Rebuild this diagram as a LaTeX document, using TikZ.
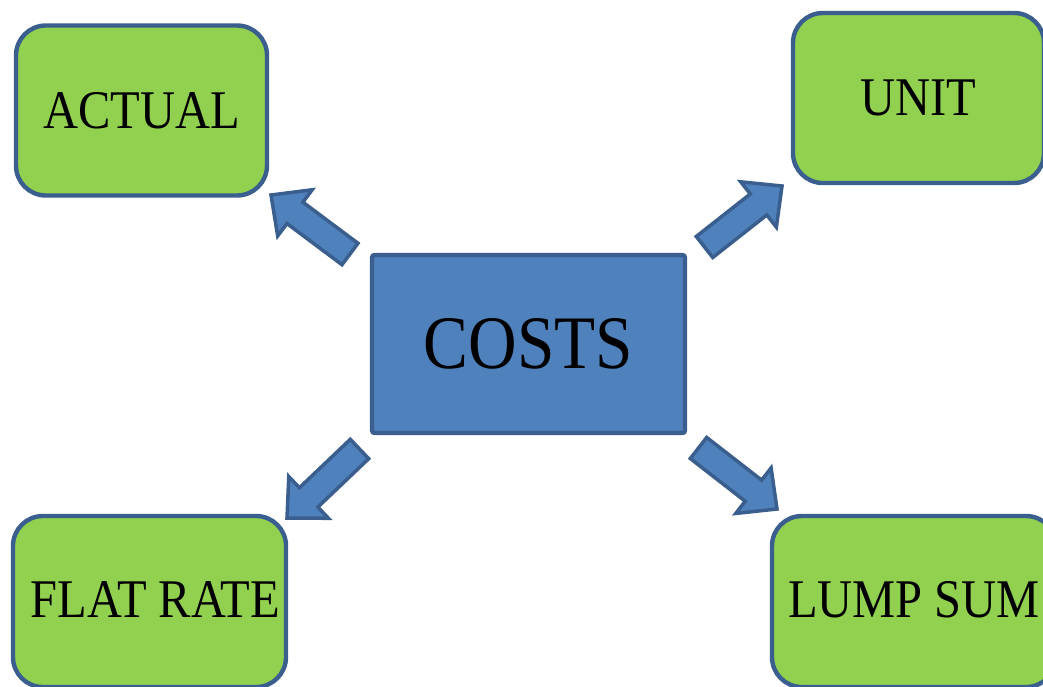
\documentclass[tikz,border=0pt]{standalone}
\usepackage{fontspec}
\setmainfont{Liberation Serif}[FakeStretch=0.89]
\usepackage{tikz}
\usetikzlibrary{calc}

\definecolor{boxgreen}{HTML}{92D050}
\definecolor{boxblue}{HTML}{4F81BD}
\definecolor{edgeblue}{HTML}{3A5F8E}

\tikzset{
  kind/.style={draw=edgeblue, line width=2.5pt, fill=boxgreen, rounded corners=17pt,
    inner sep=0pt, text=black, font=\fontsize{31}{36}\selectfont},
  costbox/.style={draw=edgeblue, line width=2.5pt, fill=boxblue, rounded corners=1.5pt,
    inner sep=0pt, text=black, font=\fontsize{43}{50}\selectfont},
  fatarrow/.style={draw=edgeblue, line width=2pt, fill=boxblue, line join=miter}
}

% block arrow from #1 (tail) to #2 (tip)
\newcommand{\fatarrow}[2]{%
\draw[fatarrow] ($(#1)!7.6pt!90:(#2)$) -- ($($(#2)!17pt!(#1)$)!7.6pt!-90:(#1)$)
  -- ($($(#2)!17pt!(#1)$)!16.4pt!-90:(#1)$) -- (#2)
  -- ($($(#2)!17pt!(#1)$)!16.4pt!90:(#1)$) -- ($($(#2)!17pt!(#1)$)!7.6pt!90:(#1)$)
  -- ($(#1)!7.6pt!-90:(#2)$) -- cycle;}

\begin{document}
\begin{tikzpicture}[x=0.02cm, y=-0.02cm]
\clip (0,0) rectangle (1043,686);
\begin{scope}

% centre box
\node[costbox, minimum width=313*0.02cm, minimum height=178*0.02cm] (costs) at (528.5,344) {COSTS};

% the four kinds
\node[kind, minimum width=251*0.02cm, minimum height=170*0.02cm] (actual) at (141.5,110.5) {ACTUAL};
\node[kind, minimum width=251*0.02cm, minimum height=170*0.02cm] (unit) at (918.5,98) {UNIT};
\node[kind, minimum width=273*0.02cm, minimum height=171*0.02cm] (flat) at (149.5,601.5) {};
\node at ($(flat)+(6,-1.5)$) [font=\fontsize{31}{36}\selectfont] (flattext) {FLAT RATE};
\node[kind, minimum width=284*0.02cm, minimum height=171*0.02cm] (lump) at (914,601.5) {};
\node at ($(lump)+(0,-1.5)$) [font=\fontsize{31}{36}\selectfont] (lumptext) {LUMP SUM};

% arrow ends
\coordinate (t1) at (350,254);   \coordinate (h1) at (271,195);
\coordinate (t2) at (704.5,247); \coordinate (h2) at (782,186);
\coordinate (t3) at (359.5,449); \coordinate (h3) at (287,518);
\coordinate (t4) at (698.5,448); \coordinate (h4) at (777,509);

\foreach \i in {1,2,3,4}
  \fatarrow{t\i}{h\i};

\end{scope}
\end{tikzpicture}
\end{document}
